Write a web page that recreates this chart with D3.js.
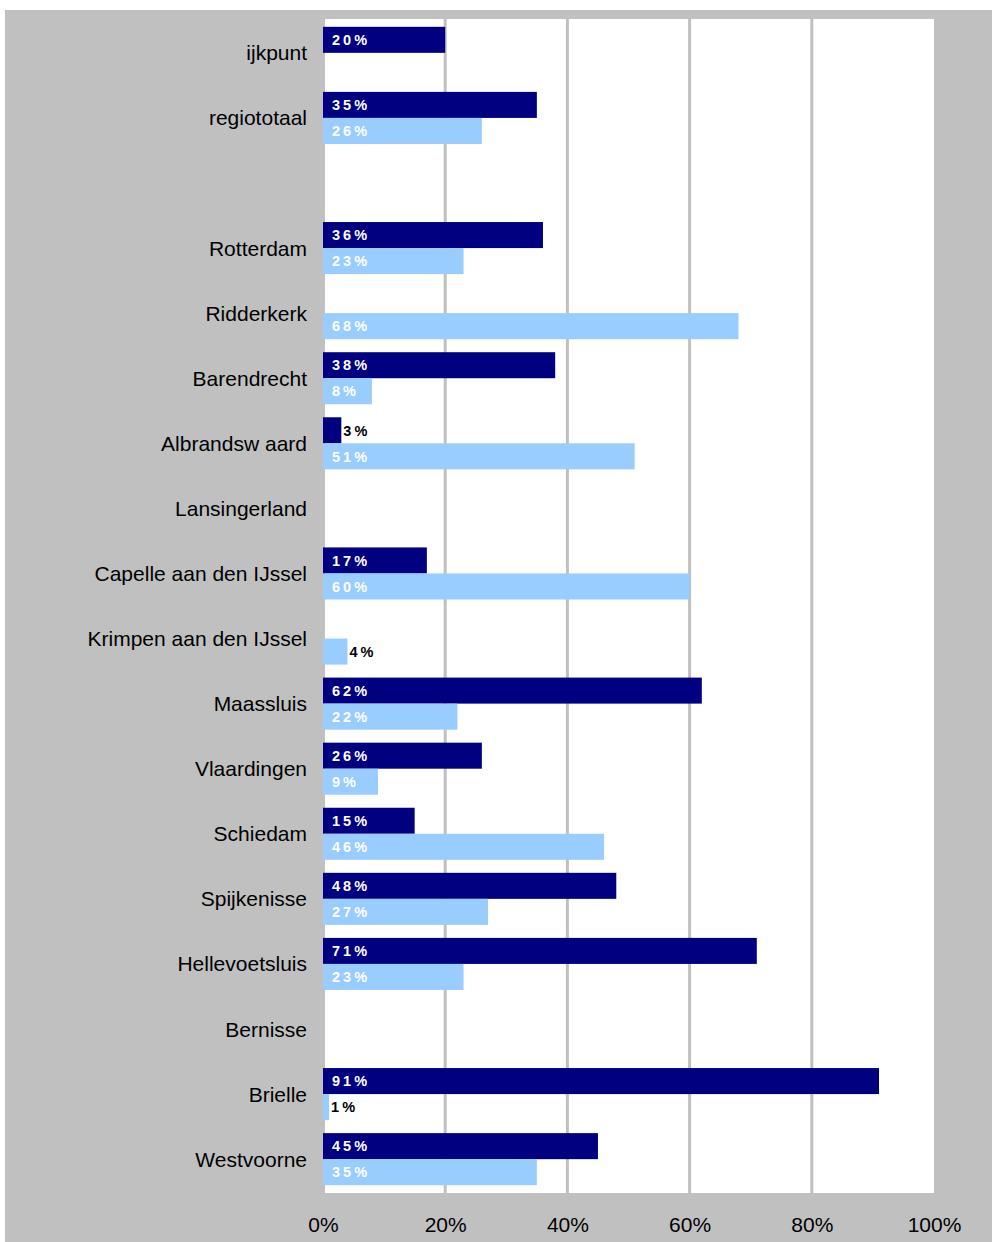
<!DOCTYPE html>
<html>
<head>
<meta charset="utf-8">
<script src="https://cdn.jsdelivr.net/npm/d3@7/dist/d3.min.js"></script>
<style>
  html, body { margin: 0; padding: 0; background: #ffffff; }
  svg { display: block; }
</style>
</head>
<body>
<svg id="chart" width="992" height="1242"></svg>
<script>
// Municipalities (empty string = spacer row)
const categories = [
  "ijkpunt", "regiototaal", "", "Rotterdam", "Ridderkerk", "Barendrecht",
  "Albrandsw aard", "Lansingerland", "Capelle aan den IJssel",
  "Krimpen aan den IJssel", "Maassluis", "Vlaardingen", "Schiedam",
  "Spijkenisse", "Hellevoetsluis", "Bernisse", "Brielle", "Westvoorne"
];
// Percentages per series (null = no bar)
const seriesDark  = [20, 35, null, 36, null, 38, 3, null, 17, null, 62, 26, 15, 48, 71, null, 91, 45];
const seriesLight = [null, 26, null, 23, 68, 8, 51, null, 60, 4, 22, 9, 46, 27, 23, null, 1, 35];
const tickValues = [0, 20, 40, 60, 80, 100];

const seriesKeys = ["dark", "light"];
const colors = { dark: "#000080", light: "#99ccff" };
const fontFamily = "Liberation Sans, Arial, Helvetica, sans-serif";

const svg = d3.select("#chart");

// Outer grey frame
svg.append("rect")
  .attr("x", 5).attr("y", 10).attr("width", 987).attr("height", 1232)
  .attr("fill", "#c0c0c0");

const plot = { left: 323, right: 934, top: 19, bottom: 1193 };

// White plot area
svg.append("rect")
  .attr("x", plot.left + 2).attr("y", plot.top)
  .attr("width", plot.right - plot.left - 2).attr("height", plot.bottom - plot.top)
  .attr("fill", "#ffffff");

const x = d3.scaleLinear().domain([0, 100]).range([plot.left, plot.right]);
const y = d3.scaleBand().domain(d3.range(categories.length))
  .range([plot.top, plot.bottom]).paddingInner(0.2).paddingOuter(0.12);
const ySub = d3.scaleBand().domain(seriesKeys).range([0, y.bandwidth()]);

// Vertical gridlines
svg.append("g").selectAll("line")
  .data(tickValues.filter(v => v > 0 && v < 100))
  .join("line")
  .attr("x1", d => x(d)).attr("x2", d => x(d))
  .attr("y1", plot.top).attr("y2", plot.bottom)
  .attr("stroke", "#c0c0c0").attr("stroke-width", 3);

// Bars with value labels
const rows = categories.map((c, i) => ({
  i, name: c,
  values: [
    { key: "dark", v: seriesDark[i] },
    { key: "light", v: seriesLight[i] }
  ].filter(d => d.v !== null)
}));

const barG = svg.append("g");
rows.forEach(r => {
  r.values.forEach(d => {
    const y0 = y(r.i) + ySub(d.key);
    const h = ySub.bandwidth();
    barG.append("rect")
      .attr("x", x(0)).attr("y", y0)
      .attr("width", x(d.v) - x(0)).attr("height", h)
      .attr("fill", colors[d.key]);
    const inside = (x(d.v) - x(0)) > 30;
    barG.append("text")
      .attr("x", inside ? x(0) + 9 : x(d.v) + 2)
      .attr("y", y0 + h / 2)
      .attr("dy", "0.36em")
      .attr("font-family", fontFamily)
      .attr("font-weight", "bold")
      .attr("font-size", 14.5)
      .attr("letter-spacing", "3px")
      .attr("fill", inside ? "#ffffff" : "#000000")
      .text(d.v + "%");
  });
});

// Category labels
svg.append("g").selectAll("text")
  .data(categories.map((c, i) => ({ c, i })).filter(d => d.c !== ""))
  .join("text")
  .attr("x", 307)
  .attr("y", d => y(d.i) + y.bandwidth() / 2)
  .attr("dy", "0.36em")
  .attr("text-anchor", "end")
  .attr("font-family", fontFamily)
  .attr("font-size", 21)
  .attr("fill", "#000000")
  .text(d => d.c);

// X axis tick labels
const axis = d3.axisBottom(x).tickValues(tickValues).tickSize(0).tickPadding(0)
  .tickFormat(d => d + "%");
const axisG = svg.append("g")
  .attr("transform", `translate(0, ${plot.bottom + 24})`)
  .call(axis);
axisG.select(".domain").remove();
axisG.selectAll("text")
  .attr("font-family", fontFamily)
  .attr("font-size", 21)
  .attr("fill", "#000000");
</script>
</body>
</html>
